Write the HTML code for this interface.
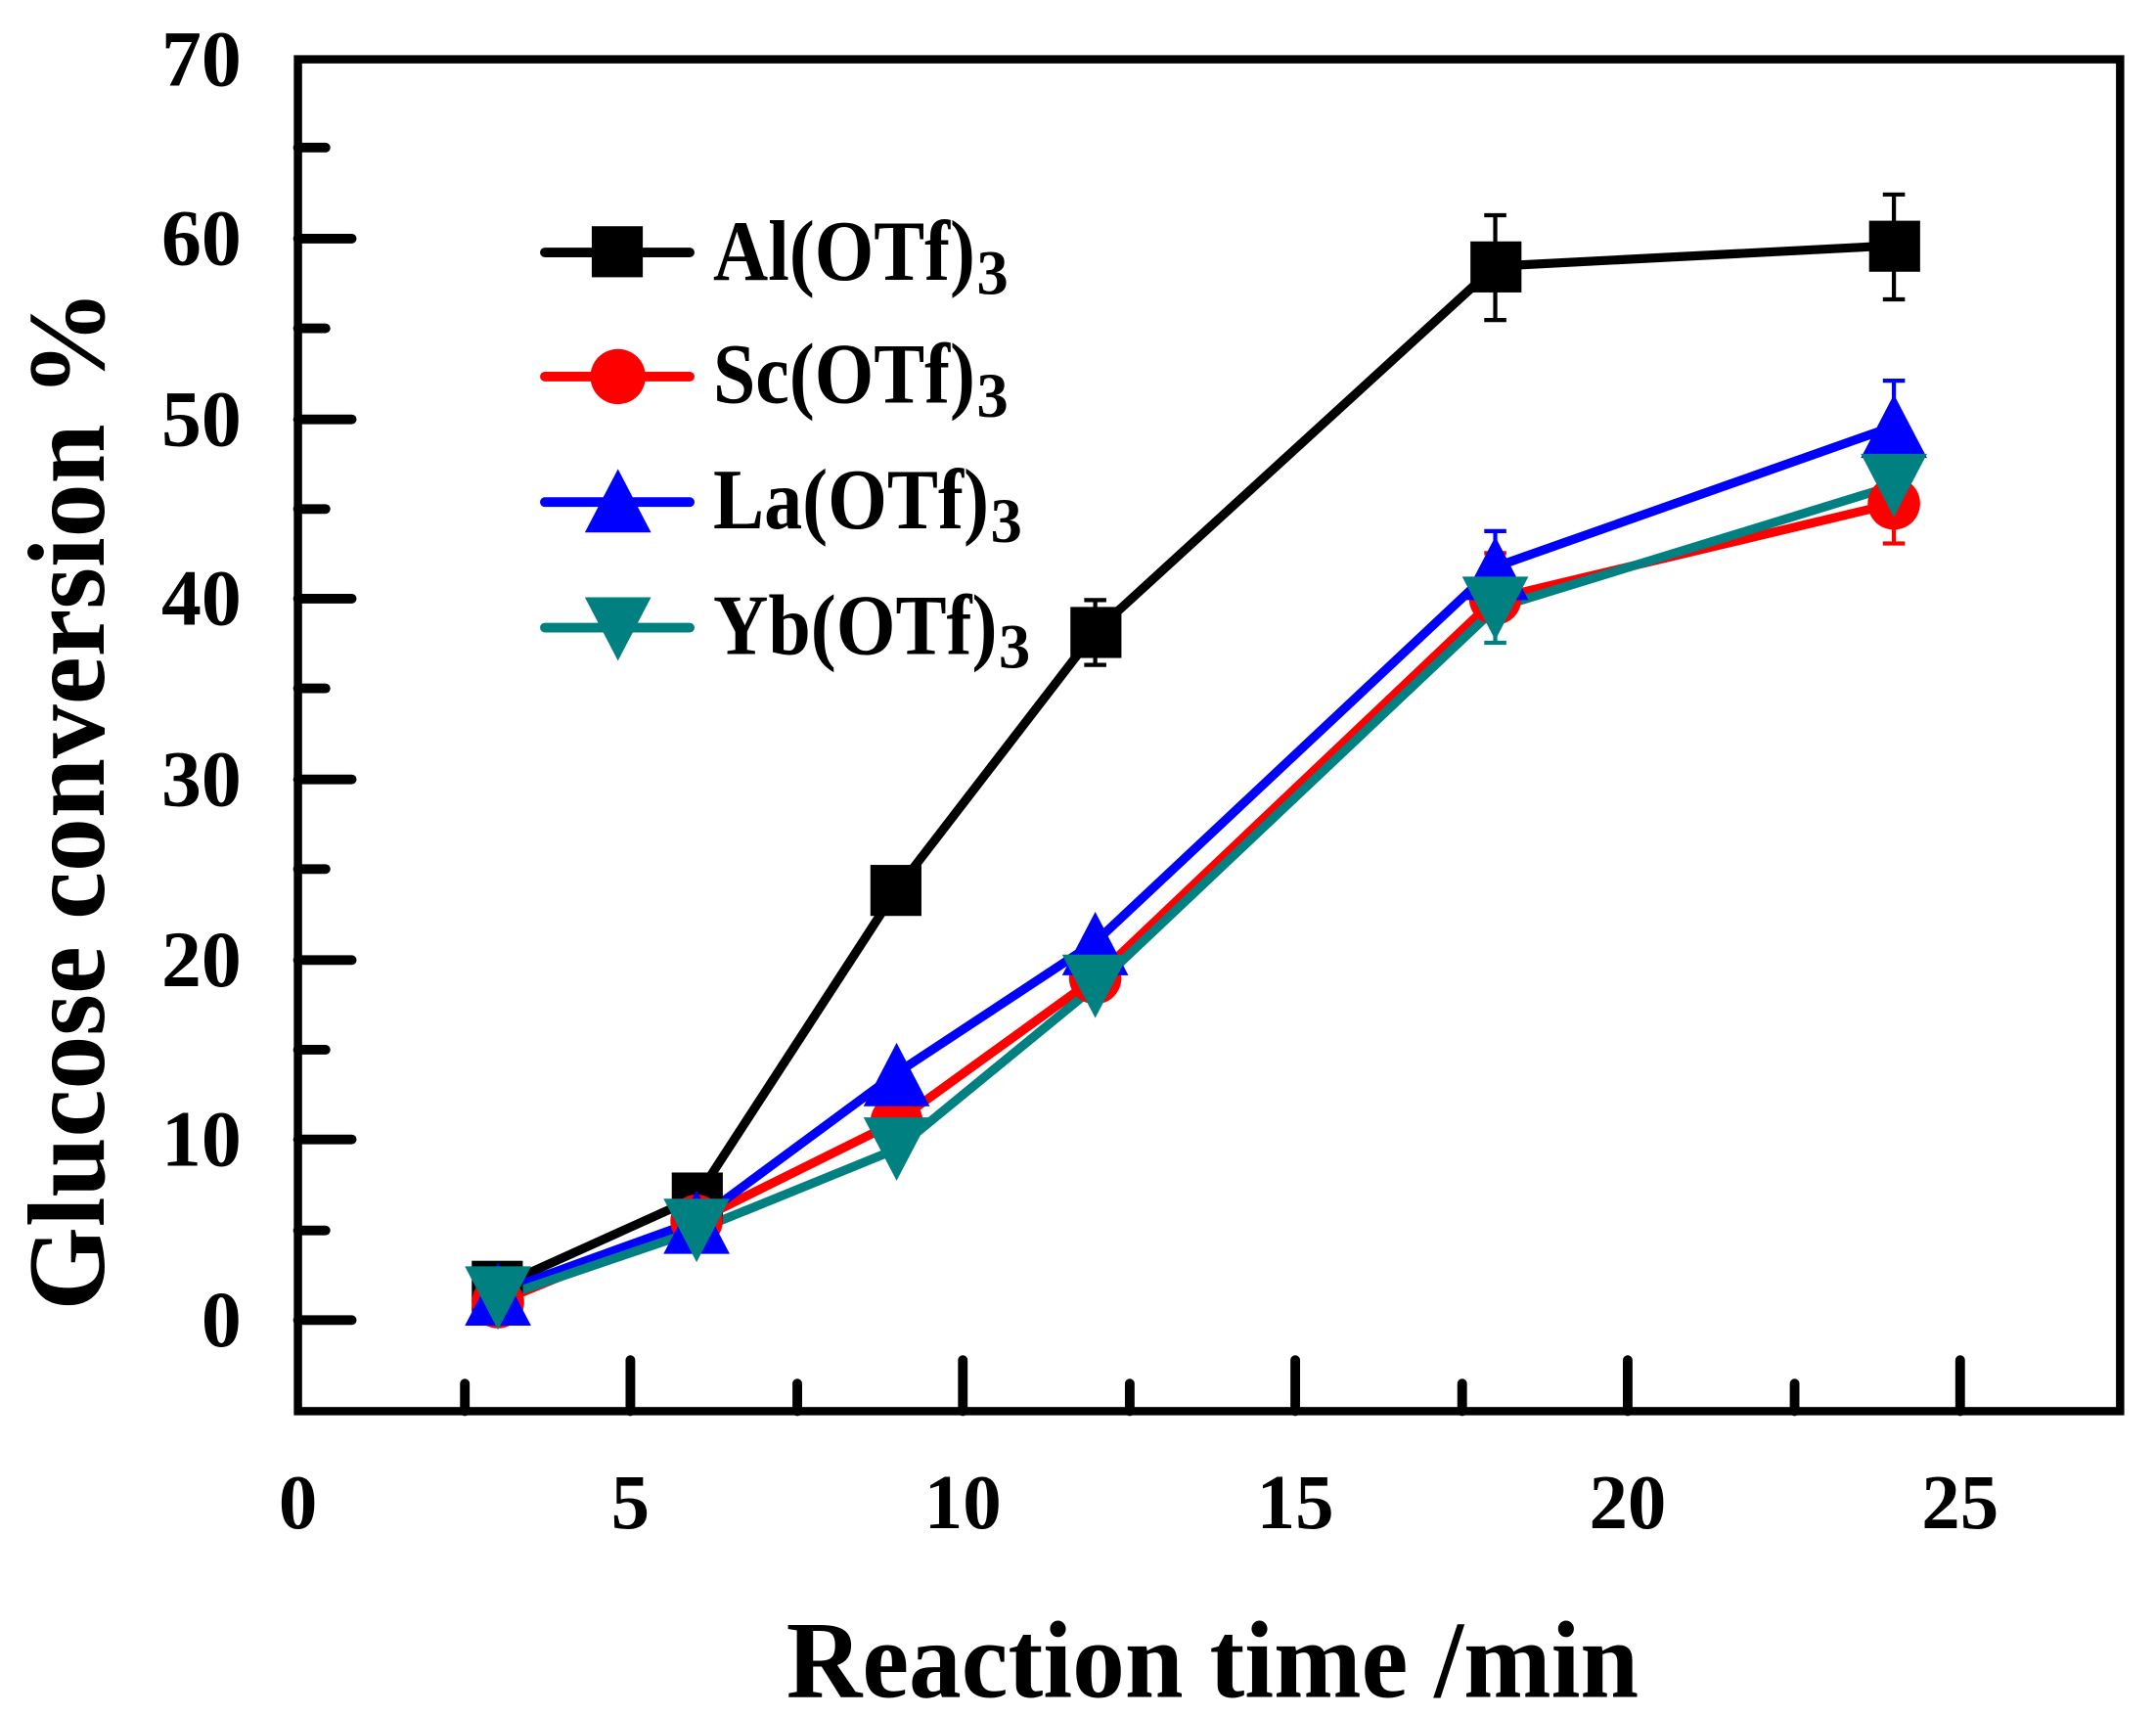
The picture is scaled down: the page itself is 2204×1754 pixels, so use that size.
<!DOCTYPE html>
<html><head><style>html,body{margin:0;padding:0;background:#fff}svg{display:block}</style></head>
<body>
<svg xmlns="http://www.w3.org/2000/svg" width="2204" height="1754" viewBox="0 0 1563 1244" preserveAspectRatio="none" font-family="'Liberation Serif', serif" font-weight="bold">
<rect width="1563" height="1244" fill="#fff"/>
<g stroke="#000" stroke-width="7" stroke-linecap="round">
<line x1="216" y1="957" x2="255" y2="957"/><line x1="216" y1="826" x2="255" y2="826"/><line x1="216" y1="696" x2="255" y2="696"/><line x1="216" y1="565" x2="255" y2="565"/><line x1="216" y1="434" x2="255" y2="434"/><line x1="216" y1="304" x2="255" y2="304"/><line x1="216" y1="173" x2="255" y2="173"/>
<line x1="216" y1="892" x2="236" y2="892"/><line x1="216" y1="761" x2="236" y2="761"/><line x1="216" y1="630" x2="236" y2="630"/><line x1="216" y1="499" x2="236" y2="499"/><line x1="216" y1="369" x2="236" y2="369"/><line x1="216" y1="238" x2="236" y2="238"/><line x1="216" y1="107" x2="236" y2="107"/>
<line x1="457" y1="1023" x2="457" y2="986"/><line x1="698" y1="1023" x2="698" y2="986"/><line x1="939" y1="1023" x2="939" y2="986"/><line x1="1180" y1="1023" x2="1180" y2="986"/><line x1="1421" y1="1023" x2="1421" y2="986"/>
<line x1="337" y1="1023" x2="337" y2="1003"/><line x1="578" y1="1023" x2="578" y2="1003"/><line x1="819" y1="1023" x2="819" y2="1003"/><line x1="1060" y1="1023" x2="1060" y2="1003"/><line x1="1301" y1="1023" x2="1301" y2="1003"/>
</g>
<rect x="216" y="43" width="1321" height="980" fill="none" stroke="#000" stroke-width="6"/>
<g font-size="58" text-anchor="end">
<text x="175" y="976">0</text><text x="175" y="845">10</text><text x="175" y="715">20</text><text x="175" y="584">30</text><text x="175" y="453">40</text><text x="175" y="323">50</text><text x="175" y="192">60</text><text x="175" y="62">70</text>
</g>
<g font-size="56" text-anchor="middle">
<text x="216" y="1108">0</text><text x="457" y="1108">5</text><text x="698" y="1108">10</text><text x="939" y="1108">15</text><text x="1180" y="1108">20</text><text x="1421" y="1108">25</text>
</g>
<text x="570" y="1230" font-size="80" textLength="618" lengthAdjust="spacingAndGlyphs">Reaction time /min</text>
<text transform="translate(75,950) rotate(-90)" font-size="80" textLength="740" lengthAdjust="spacingAndGlyphs">Glucose conversion %</text>

<g stroke-width="3" fill="none">
<g stroke="#000"><path d="M794 435v47M786 435h16M786 482h16M1084 156v76M1076 156h16M1076 232h16M1373 141v76M1365 141h16M1365 217h16"/></g>
<g stroke="#f00"><path d="M1373 337v57M1365 337h16M1365 394h16M1084 401v30M1076 401h16M1076 431h16M794 691v25M786 691h16M786 716h16"/></g>
<g stroke="#00f"><path d="M1373 276v64M1365 276h16M1365 340h16M1084 385v52M1076 385h16M1076 437h16"/></g>
<g stroke="#008080"><path d="M1373 318v30M1365 318h16M1084 411v55M1076 466h16M1076 411h16"/></g>
</g>

<g fill="none" stroke-width="6.5" stroke-linejoin="round">
<polyline stroke="#000" points="361,933 505,868 650,645 794,458 1084,193 1373,178"/>
<polyline stroke="#f00" points="361,944 505,885 650,813 794,709 1084,434 1373,365"/>
<polyline stroke="#00f" points="361,937 505,885 650,778 794,683 1084,411 1373,309"/>
<polyline stroke="#008080" points="361,941 505,892 650,833 794,715 1084,441 1373,352"/>
</g>
<g fill="#000"><rect x="342" y="914" width="37" height="37"/><rect x="487" y="850" width="37" height="37"/><rect x="631" y="627" width="37" height="37"/><rect x="776" y="440" width="37" height="37"/><rect x="1066" y="175" width="37" height="37"/><rect x="1355" y="160" width="37" height="37"/></g>
<g fill="#f00"><circle cx="361" cy="944" r="19"/><circle cx="505" cy="885" r="19"/><circle cx="650" cy="813" r="19"/><circle cx="794" cy="709" r="19"/><circle cx="1084" cy="434" r="19"/><circle cx="1373" cy="365" r="19"/></g>
<g fill="#00f"><path d="M361 915l24 46h-48z M505 863l24 46h-48z M650 756l24 46h-48z M794 661l24 46h-48z M1084 389l24 46h-48z M1373 286l24 46h-48z"/></g>
<g fill="#008080"><path d="M361 964l24-46h-48z M505 915l24-46h-48z M650 856l24-46h-48z M794 738l24-46h-48z M1084 464l24-46h-48z M1373 375l24-46h-48z"/></g>

<g stroke-width="7" stroke-linecap="round">
<line x1="395" y1="183" x2="500" y2="183" stroke="#000"/>
<line x1="395" y1="273" x2="500" y2="273" stroke="#f00"/>
<line x1="395" y1="364" x2="500" y2="364" stroke="#00f"/>
<line x1="395" y1="455" x2="500" y2="455" stroke="#008080"/>
</g>
<rect x="429" y="164" width="37" height="37" fill="#000"/>
<circle cx="448" cy="273" r="20" fill="#f00"/>
<path d="M448 340l24 46h-48z" fill="#00f"/>
<path d="M448 479l24-46h-48z" fill="#008080"/>
<g font-size="62">
<text x="517" y="203" textLength="190" lengthAdjust="spacingAndGlyphs">Al(OTf)</text><text x="708" y="213" font-size="46">3</text>
<text x="517" y="292" textLength="190" lengthAdjust="spacingAndGlyphs">Sc(OTf)</text><text x="708" y="302" font-size="46">3</text>
<text x="517" y="383" textLength="200" lengthAdjust="spacingAndGlyphs">La(OTf)</text><text x="718" y="393" font-size="46">3</text>
<text x="517" y="474" textLength="206" lengthAdjust="spacingAndGlyphs">Yb(OTf)</text><text x="724" y="484" font-size="46">3</text>
</g>
</svg>
</body></html>
